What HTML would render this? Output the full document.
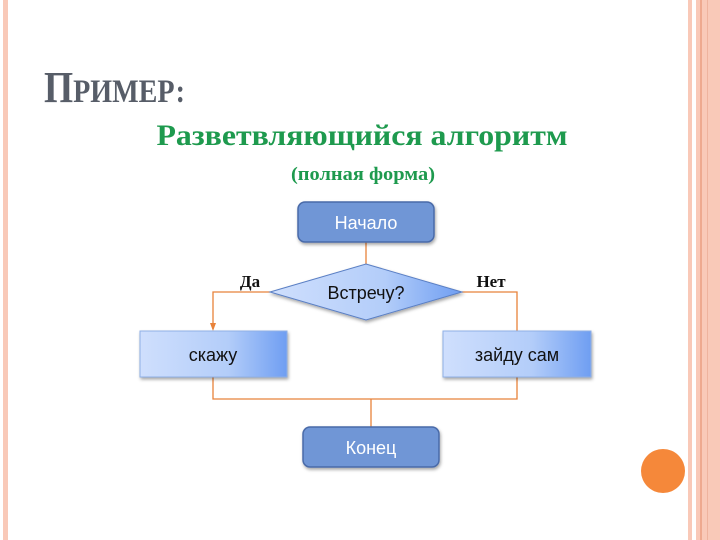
<!DOCTYPE html>
<html><head><meta charset="utf-8"><style>
html,body{margin:0;padding:0;background:#fff;}
</style></head><body>
<svg width="720" height="540" viewBox="0 0 720 540" xmlns="http://www.w3.org/2000/svg" style="display:block">
<defs>
<linearGradient id="g" x1="0" x2="1" y1="0" y2="0">
<stop offset="0" stop-color="#cfdffd"/><stop offset="0.6" stop-color="#b3cdf9"/><stop offset="1" stop-color="#6f9ef2"/>
</linearGradient>
<filter id="s" x="-10%" y="-10%" width="130%" height="140%"><feDropShadow dx="1" dy="2" stdDeviation="1.5" flood-color="#000" flood-opacity="0.35"/></filter>
</defs>
<rect width="720" height="540" fill="#fff"/>
<rect x="3" y="0" width="5" height="540" fill="#f9c9b8"/>
<rect x="688" y="0" width="4" height="540" fill="#f9c9b8"/>
<rect x="696" y="0" width="24" height="540" fill="#f9c9b8"/>
<rect x="700" y="0" width="2" height="540" fill="#eea98f"/>
<rect x="707" y="0" width="1" height="540" fill="#eeb39e"/>
<circle cx="663" cy="471" r="22" fill="#f5883a"/>
<text x="44" y="102" font-family="Liberation Serif, serif" font-weight="bold" fill="#575d68" textLength="141" lengthAdjust="spacingAndGlyphs"><tspan font-size="44">П</tspan><tspan font-size="33">РИМЕР:</tspan></text>
<text x="362" y="145" text-anchor="middle" font-family="Liberation Serif, serif" font-weight="bold" font-size="30" fill="#1e9a4e" textLength="411" lengthAdjust="spacingAndGlyphs">Разветвляющийся алгоритм</text>
<text x="363" y="180" text-anchor="middle" font-family="Liberation Serif, serif" font-weight="bold" font-size="19" fill="#1e9a4e" textLength="144" lengthAdjust="spacingAndGlyphs">(полная форма)</text>
<g stroke="#e8823a" stroke-width="1.3" fill="none">
<path d="M366 242V264"/>
<path d="M270 292H213V329"/>
<path d="M462 292H517V331"/>
<path d="M213 377V399H517V377"/>
<path d="M371 399V427"/>
</g>
<path d="M210 323L213 331L216 323Z" fill="#e8823a"/>
<rect x="298" y="202" width="136" height="40" rx="7" fill="#6f96d6" stroke="#4a6aa8" stroke-width="1.5" filter="url(#s)"/>
<text x="366" y="229" text-anchor="middle" font-family="Liberation Sans, sans-serif" font-size="18" fill="#fff">Начало</text>
<path d="M270 292L366 264L462 292L366 320Z" fill="url(#g)" stroke="#5a7fc4" stroke-width="1" filter="url(#s)"/>
<text x="366" y="299" text-anchor="middle" font-family="Liberation Sans, sans-serif" font-size="18" fill="#111">Встречу?</text>
<rect x="140" y="331" width="147" height="46" fill="url(#g)" stroke="#8fb0e6" stroke-width="1" filter="url(#s)"/>
<text x="213" y="361" text-anchor="middle" font-family="Liberation Sans, sans-serif" font-size="18" fill="#111">скажу</text>
<rect x="443" y="331" width="148" height="46" fill="url(#g)" stroke="#8fb0e6" stroke-width="1" filter="url(#s)"/>
<text x="517" y="361" text-anchor="middle" font-family="Liberation Sans, sans-serif" font-size="18" fill="#111">зайду сам</text>
<rect x="303" y="427" width="136" height="40" rx="7" fill="#6f96d6" stroke="#4a6aa8" stroke-width="1.5" filter="url(#s)"/>
<text x="371" y="454" text-anchor="middle" font-family="Liberation Sans, sans-serif" font-size="18" fill="#fff">Конец</text>
<text x="250" y="287" text-anchor="middle" font-family="Liberation Serif, serif" font-weight="bold" font-size="17" fill="#111">Да</text>
<text x="491" y="287" text-anchor="middle" font-family="Liberation Serif, serif" font-weight="bold" font-size="17" fill="#111">Нет</text>
</svg>
</body></html>
